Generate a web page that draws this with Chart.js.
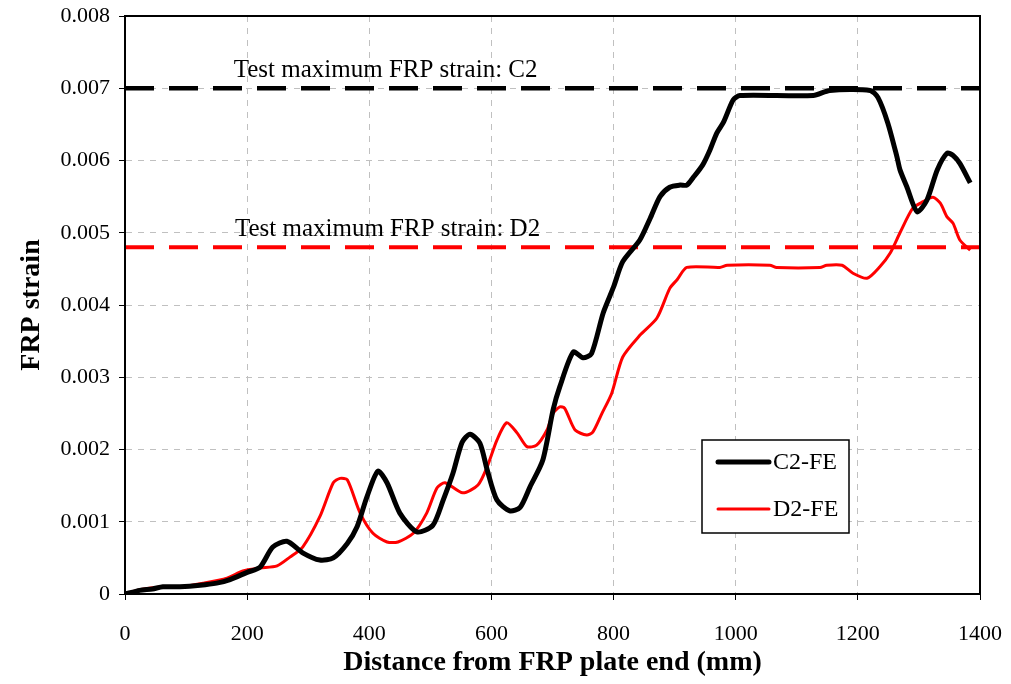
<!DOCTYPE html>
<html>
<head>
<meta charset="utf-8">
<script src="https://cdn.jsdelivr.net/npm/chart.js@4/dist/chart.umd.min.js"></script>
<style>
    html, body { margin: 0; padding: 0; background: #fff; }
</style>
</head>
<body>
<canvas id="chart-1" width="1011" height="684"></canvas>
<script>
//////////////////////////////////////////////// data
const c2X = [0, 24, 45, 62, 90, 123, 150, 172, 200, 221, 242, 265, 291, 319, 341, 364, 380, 396, 414, 429, 450, 478, 504, 521, 537, 552, 565, 581, 593, 609, 630, 647, 663, 684, 701, 712, 734, 750, 764, 783, 800, 815, 843, 860, 876, 892, 909, 920, 930, 946, 958, 969, 980, 996, 1007, 1127, 1154, 1220, 1233, 1249, 1264, 1269, 1280, 1297, 1313, 1330, 1346, 1356, 1367, 1384]
const c2Y = [0, 0.00005, 0.00007, 0.0001, 0.0001, 0.00012, 0.00015, 0.0002, 0.0003, 0.00037, 0.00065, 0.00073, 0.00057, 0.00047, 0.0005, 0.0007, 0.00093, 0.00134, 0.0017, 0.00154, 0.00112, 0.00086, 0.00095, 0.0013, 0.00167, 0.0021, 0.00221, 0.00209, 0.00172, 0.0013, 0.00115, 0.0012, 0.00148, 0.00185, 0.00255, 0.00287, 0.00335, 0.00327, 0.00333, 0.00389, 0.00425, 0.0046, 0.0049, 0.0052, 0.0055, 0.00563, 0.00566, 0.00566, 0.00576, 0.00594, 0.00615, 0.00638, 0.00653, 0.00684, 0.0069, 0.0069, 0.00697, 0.00697, 0.00687, 0.00652, 0.00605, 0.00587, 0.00564, 0.00529, 0.00545, 0.00587, 0.0061, 0.00607, 0.00596, 0.00569]

const d2X = [0, 24, 62, 90, 128, 167, 193, 221, 249, 270, 291, 319, 341, 352, 364, 385, 406, 429, 447, 472, 494, 511, 524, 553, 578, 593, 609, 625, 642, 658, 674, 691, 701, 712, 720, 737, 756, 766, 781, 797, 815, 843, 871, 892, 904, 920, 974, 986, 1056, 1067, 1138, 1149, 1174, 1192, 1215, 1236, 1253, 1269, 1290, 1307, 1323, 1335, 1346, 1356, 1367, 1384]
const d2Y = [0, 0.00006, 0.0001, 0.0001, 0.00015, 0.00022, 0.00032, 0.00036, 0.00039, 0.00051, 0.00065, 0.00107, 0.00154, 0.0016, 0.00158, 0.00112, 0.00084, 0.00072, 0.00072, 0.00084, 0.00112, 0.00147, 0.00154, 0.0014, 0.00151, 0.00176, 0.00213, 0.00237, 0.00223, 0.00204, 0.00206, 0.00227, 0.0025, 0.00259, 0.00257, 0.00227, 0.0022, 0.00224, 0.0025, 0.00278, 0.00328, 0.00358, 0.00382, 0.00423, 0.00435, 0.00452, 0.00452, 0.00455, 0.00455, 0.00452, 0.00452, 0.00455, 0.00455, 0.00444, 0.00437, 0.00453, 0.00472, 0.005, 0.00534, 0.00543, 0.00549, 0.00541, 0.00522, 0.00513, 0.0049, 0.00476]

// test maxima (dashed lines)
const refX = [0, 1400]
const refC2 = 0.007
const refD2 = 0.0048

const xTicks = [0, 200, 400, 600, 800, 1000, 1200, 1400]
const yTicks = [0, 0.001, 0.002, 0.003, 0.004, 0.005, 0.006, 0.007, 0.008]

const serif = '"Liberation Serif", "Times New Roman", serif'

function pts(xs, ys) {
    return xs.map((x, i) => ({ x: x, y: ys[i] }))
}

//////////////////////////////////////////////// extras: box, labels, legend
const extras = {
    id: 'extras',
    afterDatasetsDraw(chart) {
        const { ctx, scales: { x, y } } = chart
        ctx.save()
        ctx.fillStyle = '#000'
        ctx.font = '25px ' + serif
        ctx.textBaseline = 'alphabetic'
        ctx.fillText('Test maximum FRP strain: C2', x.getPixelForValue(178), y.getPixelForValue(refC2) - 11)
        ctx.fillText('Test maximum FRP strain: D2', x.getPixelForValue(180), y.getPixelForValue(refD2) - 11)
        ctx.restore()
    },
    afterDraw(chart) {
        const { ctx, chartArea: a } = chart
        ctx.save()
        ctx.strokeStyle = '#000'
        ctx.lineWidth = 2
        ctx.strokeRect(a.left, a.top, a.right - a.left, a.bottom - a.top)

        // legend
        const lx = 702, ly = 440, lw = 147, lh = 93
        ctx.fillStyle = '#fff'
        ctx.fillRect(lx, ly, lw, lh)
        ctx.lineWidth = 1.5
        ctx.strokeRect(lx, ly, lw, lh)
        ctx.lineCap = 'round'
        chart.data.datasets.slice(0, 2).forEach((ds, i) => {
            const yy = ly + 22 + i * 47
            ctx.strokeStyle = ds.borderColor
            ctx.lineWidth = ds.borderWidth
            ctx.beginPath()
            ctx.moveTo(lx + 16, yy)
            ctx.lineTo(lx + 67, yy)
            ctx.stroke()
            ctx.fillStyle = '#000'
            ctx.font = '24px ' + serif
            ctx.textBaseline = 'middle'
            ctx.fillText(ds.label, lx + 71, yy + 1)
        })
        ctx.restore()
    }
}

//////////////////////////////////////////////// chart
const ctx1 = document.getElementById('chart-1')

new Chart(ctx1, {
    type: 'line',
    data: {
        datasets: [{
            label: 'C2-FE',
            data: pts(c2X, c2Y),
            borderColor: '#000000',
            borderWidth: 5,
            tension: 0.25
        }, {
            label: 'D2-FE',
            data: pts(d2X, d2Y),
            borderColor: '#FF0000',
            borderWidth: 3,
            tension: 0.25
        }, {
            label: 'Test C2',
            data: pts(refX, [refC2, refC2]),
            borderColor: '#000000',
            borderWidth: 4.5,
            borderDash: [29, 15],
            borderCapStyle: 'butt'
        }, {
            label: 'Test D2',
            data: pts(refX, [refD2, refD2]),
            borderColor: '#FF0000',
            borderWidth: 4,
            borderDash: [29, 15],
            borderCapStyle: 'butt'
        }]
    },
    options: {
        responsive: false,
        animation: false,
        elements: { point: { radius: 0 } },
        layout: { padding: { top: 16, right: 31, left: 0, bottom: 0 } },
        plugins: {
            legend: { display: false },
            tooltip: { enabled: false }
        },
        scales: {
            x: {
                type: 'linear',
                min: 0,
                max: 1400,
                afterBuildTicks: s => { s.ticks = xTicks.map(v => ({ value: v })) },
                afterFit: s => { s.height = 90; s.paddingLeft = 0; s.paddingRight = 0 },
                ticks: {
                    color: '#000',
                    padding: 21,
                    autoSkip: false,
                    maxRotation: 0,
                    font: { family: serif, size: 22 },
                    callback: v => String(v)
                },
                grid: { color: '#c0c0c0', tickColor: '#000', tickLength: 6, lineWidth: 1 },
                border: { color: '#000', width: 2, dash: [6, 6] },
                title: {
                    display: true,
                    text: 'Distance from FRP plate end (mm)',
                    color: '#000',
                    font: { family: serif, size: 28, weight: 'bold' },
                    padding: { top: 0, bottom: 4 }
                }
            },
            y: {
                min: 0,
                max: 0.008,
                afterBuildTicks: s => { s.ticks = yTicks.map(v => ({ value: v })) },
                afterFit: s => { s.width = 125; s.paddingTop = 0; s.paddingBottom = 0 },
                ticks: {
                    color: '#000',
                    padding: 9,
                    autoSkip: false,
                    font: { family: serif, size: 22 },
                    callback: v => String(Number(v.toFixed(3)))
                },
                grid: { color: '#c0c0c0', tickColor: '#000', tickLength: 6, lineWidth: 1 },
                border: { color: '#000', width: 2, dash: [6, 6] },
                title: {
                    display: true,
                    text: 'FRP strain',
                    color: '#000',
                    font: { family: serif, size: 28, weight: 'bold' },
                    padding: { top: 15, bottom: 0 }
                }
            }
        }
    },
    plugins: [extras]
});
</script>
</body>
</html>
